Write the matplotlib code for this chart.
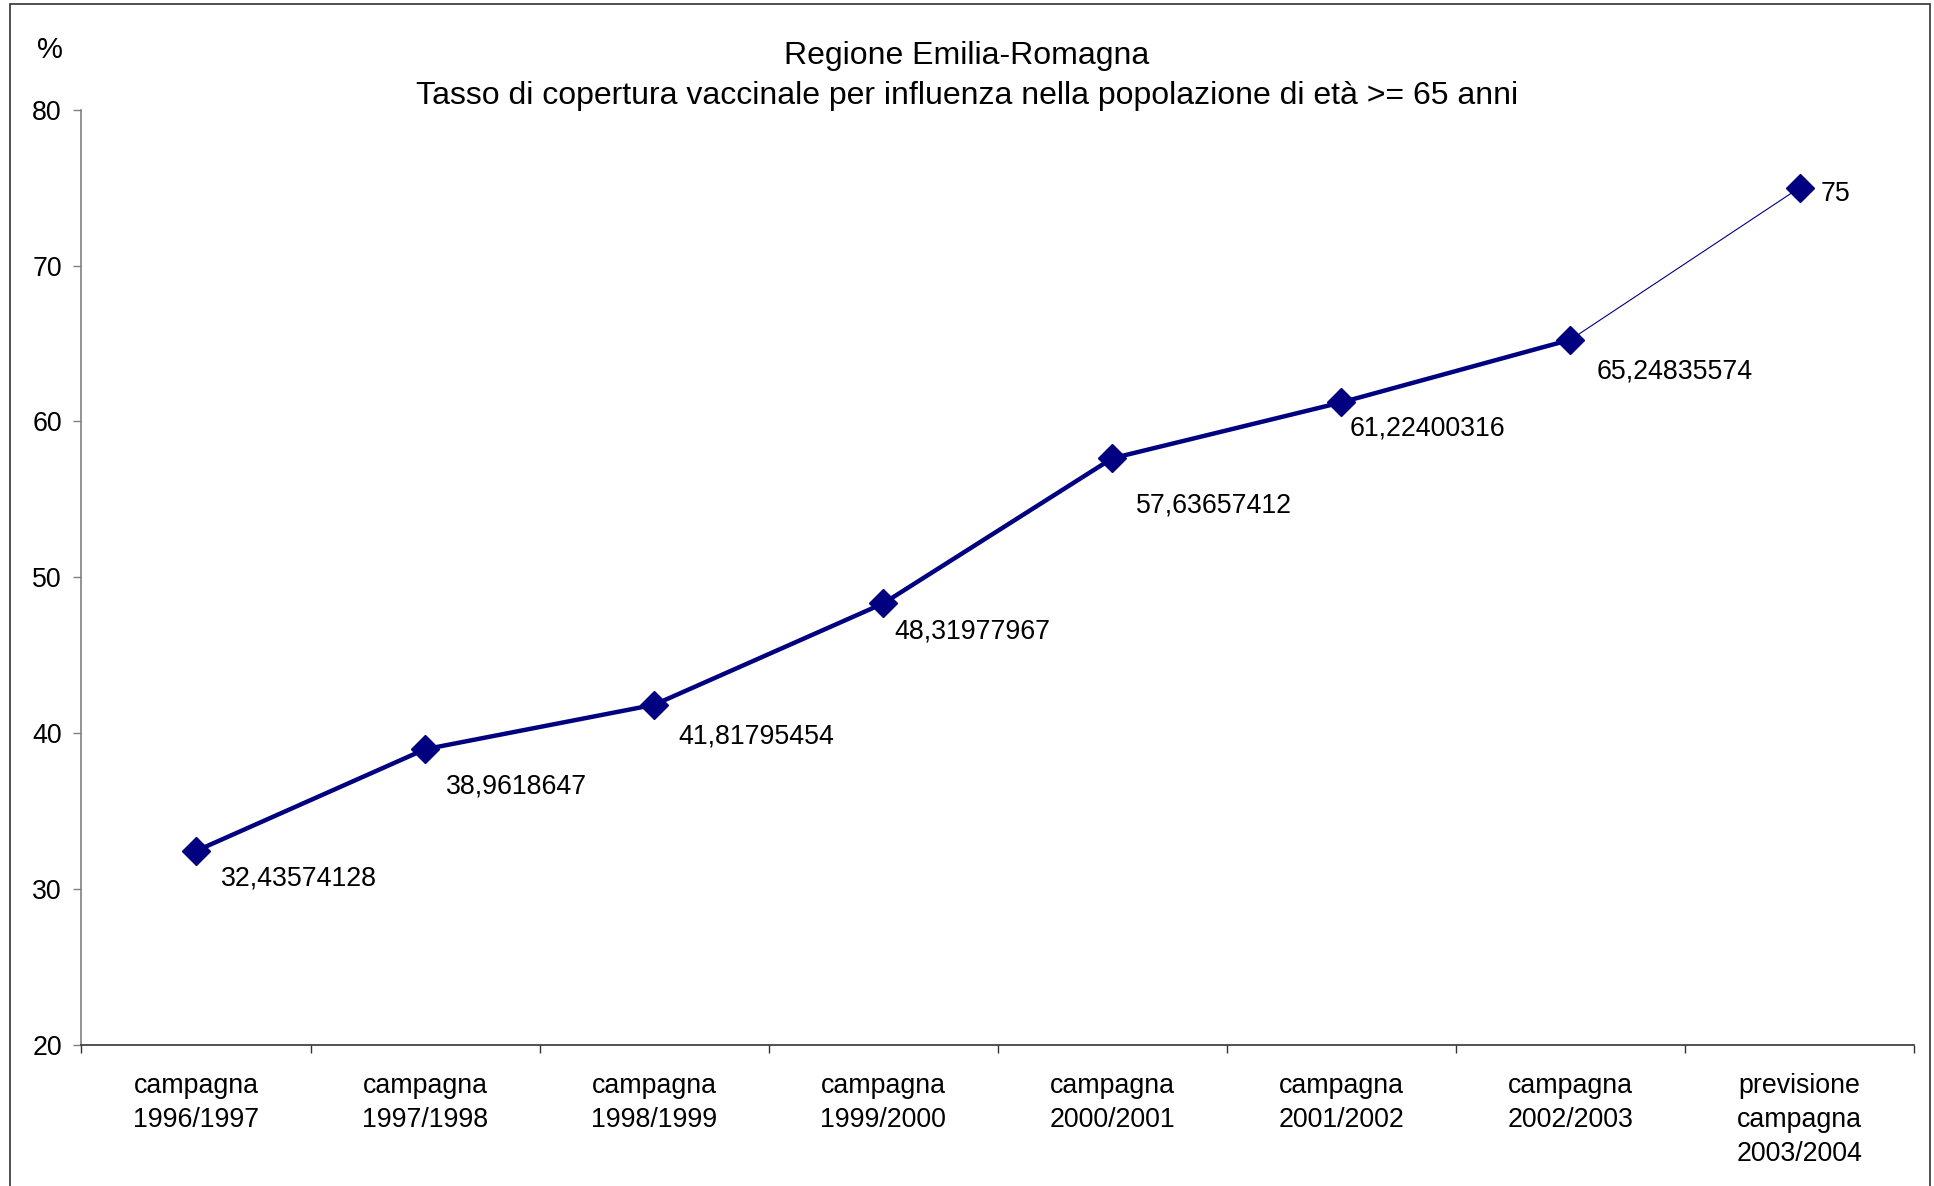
import matplotlib.pyplot as plt
from matplotlib.patches import Rectangle

plt.rcParams['font.family'] = ['Liberation Sans', 'DejaVu Sans']

categories = ['campagna\n1996/1997', 'campagna\n1997/1998', 'campagna\n1998/1999',
              'campagna\n1999/2000', 'campagna\n2000/2001', 'campagna\n2001/2002',
              'campagna\n2002/2003', 'previsione\ncampagna\n2003/2004']
values = [32.43574128, 38.9618647, 41.81795454, 48.31977967,
          57.63657412, 61.22400316, 65.24835574, 75]
labels = ['32,43574128', '38,9618647', '41,81795454', '48,31977967',
          '57,63657412', '61,22400316', '65,24835574', '75']
yticks = [20, 30, 40, 50, 60, 70, 80]

# label offsets from each point (points), as placed in the original
label_dx = [17.8, 15.1, 17.8, 8.0, 16.9, 6.2, 18.6, 15.1]
label_dy = [-19.5, -26.6, -23.1, -20.4, -33.7, -18.6, -23.1, -4.4]

navy = '#000080'

fig = plt.figure(figsize=(19.34, 11.86), dpi=100)
ax = fig.add_axes([0.0421, 0.1191, 0.9476, 0.7883])

x = list(range(len(values)))
# actual campaigns: thick line
ax.plot(x[:7], values[:7], color=navy, lw=3.2, zorder=2)
# forecast: thin line
ax.plot(x[6:], values[6:], color=navy, lw=0.8, zorder=2)
ax.plot(x, values, ls='none', marker='D', ms=14, color=navy, zorder=3)

for xi, v, lab, dx, dy in zip(x, values, labels, label_dx, label_dy):
    ax.annotate(lab, (xi, v), xytext=(dx, dy), textcoords='offset points',
                ha='left', va='center', fontsize=19.3)

ax.set_xlim(-0.5, len(values) - 0.5)
ax.set_ylim(20, 80)
ax.set_yticks(yticks)
ax.set_xticks([i - 0.5 for i in range(len(values) + 1)])
ax.set_xticklabels([])
ax.set_xticks(x, minor=True)
ax.set_xticklabels(categories, minor=True, fontsize=19.3, linespacing=1.42)
ax.tick_params(axis='x', which='major', length=6, width=1, color='#333333')
ax.tick_params(axis='x', which='minor', length=0, pad=20)
ax.tick_params(axis='y', length=6, width=1, color='#808080', pad=8, labelsize=19.3)

for side in ['top', 'right']:
    ax.spines[side].set_visible(False)
ax.spines['left'].set_color('#808080')
ax.spines['bottom'].set_color('#333333')
ax.spines['left'].set_linewidth(1.2)
ax.spines['bottom'].set_linewidth(1.2)

fig.text(0.5, 0.953, 'Regione Emilia-Romagna', ha='center', va='center', fontsize=23)
fig.text(0.5, 0.919, 'Tasso di copertura vaccinale per influenza nella popolazione di età >= 65 anni',
         ha='center', va='center', fontsize=23)
fig.text(0.026, 0.958, '%', ha='center', va='center', fontsize=21)

# chart area border
fig.patches.append(Rectangle((10 / 1934, -0.05), 1920 / 1934, 1.05 - 4 / 1186,
                             transform=fig.transFigure, fill=False,
                             edgecolor='#333333', lw=1.2))

plt.savefig('out.png', dpi=100)
plt.close()
